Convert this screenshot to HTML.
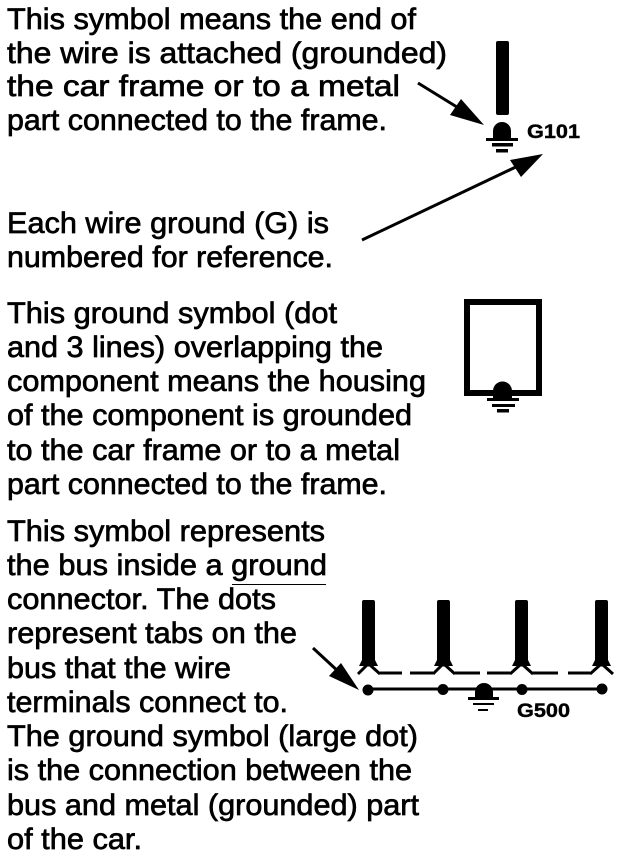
<!DOCTYPE html>
<html><head><meta charset="utf-8"><style>
html,body{margin:0;padding:0;background:#fff}
svg{display:block}
text{font-family:"Liberation Sans",Arial,sans-serif;font-size:30px;fill:#000;stroke:#000;stroke-width:.7px}
text.b{font-size:19px;font-weight:bold;stroke-width:.4px}
</style></head><body>
<svg width="640" height="858" viewBox="0 0 640 858" xmlns="http://www.w3.org/2000/svg">
<rect width="640" height="858" fill="#fff"/>
<g>
<text x="7" y="29" textLength="409" lengthAdjust="spacingAndGlyphs">This symbol means the end of</text>
<text x="7" y="63" textLength="440" lengthAdjust="spacingAndGlyphs">the wire is attached (grounded)</text>
<text x="7" y="96" textLength="393" lengthAdjust="spacingAndGlyphs">the car frame or to a metal</text>
<text x="7" y="130" textLength="380" lengthAdjust="spacingAndGlyphs">part connected to the frame.</text>
<text x="7" y="233" textLength="322" lengthAdjust="spacingAndGlyphs">Each wire ground (G) is</text>
<text x="7" y="267" textLength="326" lengthAdjust="spacingAndGlyphs">numbered for reference.</text>
<text x="7" y="323" textLength="330" lengthAdjust="spacingAndGlyphs">This ground symbol (dot</text>
<text x="7" y="357" textLength="376" lengthAdjust="spacingAndGlyphs">and 3 lines) overlapping the</text>
<text x="7" y="391" textLength="419" lengthAdjust="spacingAndGlyphs">component means the housing</text>
<text x="7" y="425" textLength="405" lengthAdjust="spacingAndGlyphs">of the component is grounded</text>
<text x="7" y="460" textLength="393" lengthAdjust="spacingAndGlyphs">to the car frame or to a metal</text>
<text x="7" y="494" textLength="380" lengthAdjust="spacingAndGlyphs">part connected to the frame.</text>
<text x="7" y="541" textLength="318" lengthAdjust="spacingAndGlyphs">This symbol represents</text>
<text x="7" y="575" textLength="320" lengthAdjust="spacingAndGlyphs">the bus inside a ground</text>
<text x="7" y="609" textLength="269" lengthAdjust="spacingAndGlyphs">connector. The dots</text>
<text x="7" y="643" textLength="290" lengthAdjust="spacingAndGlyphs">represent tabs on the</text>
<text x="7" y="678" textLength="224" lengthAdjust="spacingAndGlyphs">bus that the wire</text>
<text x="7" y="712" textLength="281" lengthAdjust="spacingAndGlyphs">terminals connect to.</text>
<text x="7" y="746" textLength="411" lengthAdjust="spacingAndGlyphs">The ground symbol (large dot)</text>
<text x="7" y="780" textLength="405" lengthAdjust="spacingAndGlyphs">is the connection between the</text>
<text x="7" y="815" textLength="412" lengthAdjust="spacingAndGlyphs">bus and metal (grounded) part</text>
<text x="7" y="849" textLength="135" lengthAdjust="spacingAndGlyphs">of the car.</text>
<rect x="232" y="584" width="94" height="1" fill="#000"/>
</g>
<!-- G101 -->
<rect x="496" y="41" width="13" height="74" rx="2" fill="#000"/>
<path d="M493 138 V131 A9 9 0 0 1 511 131 V138 Z" fill="#000"/>
<rect x="486" y="138" width="32" height="3" fill="#000"/>
<rect x="492" y="143" width="21" height="3.500" fill="#000"/>
<rect x="496" y="149" width="12" height="3.500" fill="#000"/>
<text class="b" x="527" y="138" textLength="53" lengthAdjust="spacingAndGlyphs">G101</text>
<!-- arrows -->
<line x1="418" y1="83" x2="465" y2="112" stroke="#000" stroke-width="3"/>
<polygon points="484,125 461,99 450,115" fill="#000"/>
<line x1="362" y1="240" x2="520" y2="165" stroke="#000" stroke-width="3"/>
<polygon points="543,154 510,160 521,177" fill="#000"/>
<!-- box -->
<rect x="467" y="302" width="72" height="91" fill="none" stroke="#000" stroke-width="6"/>
<path d="M493 398 V391 A9.500 9.500 0 0 1 512 391 V398 Z" fill="#000"/>
<rect x="487" y="398" width="32" height="3" fill="#000"/>
<rect x="492" y="404" width="23" height="3" fill="#000"/>
<rect x="497" y="409" width="12" height="3.500" fill="#000"/>
<!-- bus wires -->
<g fill="#000">
<path d="M362 602 Q362 600 364 600 H373 Q375 600 375 602 V660 L378 666 H359 L362 660 Z"/>
<path d="M437 602 Q437 600 439 600 H448 Q450 600 450 602 V660 L453 666 H434 L437 660 Z"/>
<path d="M515 602 Q515 600 517 600 H526 Q528 600 528 602 V660 L531 666 H512 L515 660 Z"/>
<path d="M595 602 Q595 600 597 600 H606 Q608 600 608 602 V660 L611 666 H592 L595 660 Z"/>
</g>
<g fill="none" stroke="#000" stroke-width="3">
<path d="M358 674 L367 665 H370 L380 674"/>
<path d="M433 674 L442 665 H445 L455 674"/>
<path d="M510 674 L520 665 H523 L533 674"/>
<path d="M590 674 L600 665 H603 L613 674"/>
<path d="M380 673 H402 M410 673 H433 M455 673 H480 M487 673 H510 M532 673 H558 M568 673 H590"/>
</g>
<line x1="368" y1="689" x2="602" y2="689" stroke="#000" stroke-width="3"/>
<circle cx="368" cy="690" r="5.500" fill="#000"/>
<circle cx="443" cy="689.500" r="5.500" fill="#000"/>
<circle cx="522" cy="689.500" r="5.500" fill="#000"/>
<circle cx="602" cy="689" r="5.500" fill="#000"/>
<path d="M475 697 V692 A9 9 0 0 1 493 692 V697 Z" fill="#000"/>
<rect x="468" y="697" width="31" height="3" fill="#000"/>
<rect x="473" y="703" width="21" height="2" fill="#000"/>
<rect x="478" y="709" width="10" height="2" fill="#000"/>
<text class="b" x="517" y="717" textLength="53" lengthAdjust="spacingAndGlyphs">G500</text>
<line x1="313" y1="648" x2="340" y2="673" stroke="#000" stroke-width="3"/>
<polygon points="359,690 341,663 329,676" fill="#000"/>
</svg>
</body></html>
